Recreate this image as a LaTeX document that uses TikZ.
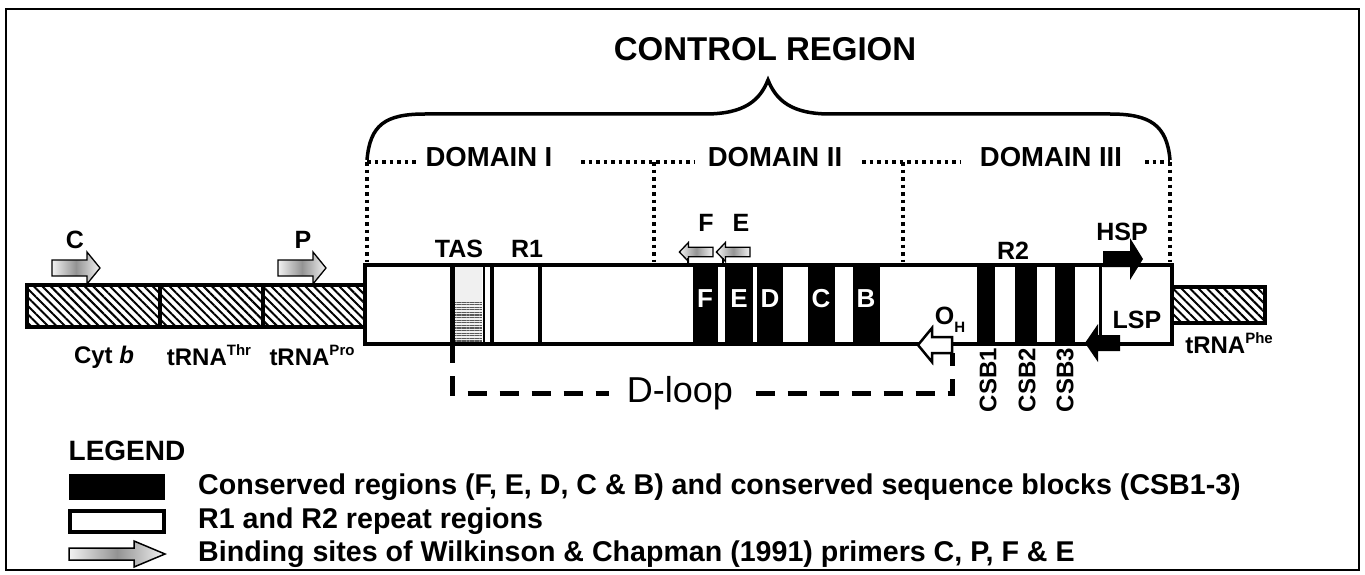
\documentclass[tikz,border=0pt]{standalone}
\usepackage{fontspec}
\setmainfont{Liberation Sans}
\usetikzlibrary{patterns.meta}
\newcommand\supx[1]{\raisebox{0.42em}{\fontsize{15}{15}\selectfont #1}}
\newcommand\subx[1]{\raisebox{-0.3em}{\fontsize{15}{15}\selectfont #1}}
\begin{document}
\begin{tikzpicture}[x=1pt,y=-1pt,
  txt/.style={inner sep=0pt, font=\fontsize{24}{24}\selectfont\bfseries},
  big/.style={inner sep=0pt, font=\fontsize{25}{25}\selectfont\bfseries},
  dom/.style={inner sep=0pt, font=\fontsize{27.5}{28}\selectfont\bfseries},
  leg/.style={inner sep=0pt, anchor=west, font=\fontsize{28.6}{29}\selectfont\bfseries},
  dotline/.style={line width=4pt, dash pattern=on 3.5pt off 4pt},
  hatch/.style={draw, line width=4pt, pattern={Lines[angle=-45,distance=6pt,line width=2pt]}},
  blk/.style={fill=black},
  wl/.style={inner sep=0pt, text=white, font=\fontsize{26}{26}\selectfont\bfseries},
  primer/.style={draw, line width=1.3pt, left color=gray!10, right color=gray!10, middle color=gray!85},
  dloop/.style={line width=5pt, dash pattern=on 19pt off 13pt},
  solidarrow/.style={fill=black},
  openarrow/.style={draw, fill=white, line width=2.5pt},
  primerR/.pic={\path[primer] (0,-8) -- (35,-8) -- (35,-16) -- (48,0) -- (35,16) -- (35,8) -- (0,8) -- cycle;}
]
\useasboundingbox (0,0) rectangle (1365,575);
\draw[line width=2pt] (6,9) rectangle (1359,570);

% title and brace
\node[inner sep=0pt, font=\fontsize{33}{33}\selectfont\bfseries] (title) at (765,49) {CONTROL REGION};
\draw[line width=3.5pt] (367,160) .. controls (370,125) and (385,114) .. (425,114) -- (705,114)
  .. controls (745,114) and (760,100) .. (768,80) .. controls (776,100) and (791,114) .. (830,114)
  -- (1110,114) .. controls (1150,114) and (1167,125) .. (1170,160);

% domain labels and dotted lines
\node[dom] (d1) at (489,157) {DOMAIN I};
\node[dom] (d2) at (775,157) {DOMAIN II};
\node[dom] (d3) at (1051,157) {DOMAIN III};
\draw[dotline] (367,162) -- (419,162);
\draw[dotline] (581,162) -- (694,162);
\draw[dotline] (862,162) -- (960,162);
\draw[dotline] (1145,162) -- (1170,162);
\draw[dotline] (367,162) -- (367,262);
\draw[dotline] (654,162) -- (654,262);
\draw[dotline] (903,162) -- (903,262);
\draw[dotline] (1170,162) -- (1170,262);

% flanking genes
\path[hatch] (27,285) rectangle (365,327);
\draw[line width=4pt] (160,285) -- (160,327);
\draw[line width=4pt] (263,285) -- (263,327);
\path[hatch] (1172,287) rectangle (1265,323);

% control region box
\draw[line width=4.5pt, fill=white] (365,265) rectangle (1172,344);
\fill[gray!12] (455,267) rectangle (482,342);
\fill[pattern={Lines[angle=0,distance=2.6pt,line width=1.1pt]}, pattern color=gray!70!black] (455,302) rectangle (482,342);
\draw[line width=5pt] (452.5,265) -- (452.5,344);
\draw[line width=2pt] (484,265) -- (484,344);
\draw[line width=4pt] (492,265) -- (492,344);
\draw[line width=4pt] (540,265) -- (540,344);
\draw[line width=3pt] (1100,265) -- (1100,344);
% conserved blocks
\fill[blk] (693,265) rectangle (718,344);
\fill[blk] (725,265) rectangle (753,344);
\fill[blk] (757,265) rectangle (783,344);
\fill[blk] (808,265) rectangle (835,344);
\fill[blk] (853,265) rectangle (880,344);
\fill[blk] (977,265) rectangle (995,344);
\fill[blk] (1015,265) rectangle (1037,344);
\fill[blk] (1055,265) rectangle (1075,344);
\node[wl] (lF) at (705,299) {F};
\node[wl] (lE) at (739,299) {E};
\node[wl] (lD) at (770,299) {D};
\node[wl] (lC) at (821,299) {C};
\node[wl] (lB) at (866,299) {B};

% labels in/around box
\node[big] (tas) at (459,249) {TAS};
\node[big] (r1) at (527,249) {R1};
\node[big] (r2) at (1013,251) {R2};
\node[big] (hsp) at (1122,232) {HSP};
\node[big] (lsp) at (1137,320) {LSP};
\node[big] (oh) at (950,320) {O\subx{H}};
\node[txt] (cytb) at (104,357) {Cyt \textit{b}};
\node[txt] (thr) at (209,355) {tRNA\supx{Thr}};
\node[txt] (pro) at (312,355) {tRNA\supx{Pro}};
\node[txt] (phe) at (1229,343) {tRNA\supx{Phe}};
\node[txt, rotate=90] (csb1) at (988,380) {CSB1};
\node[txt, rotate=90] (csb2) at (1027,380) {CSB2};
\node[txt, rotate=90] (csb3) at (1065,380) {CSB3};

% promoters and origin
\path[solidarrow] (1103,251) -- (1130,251) -- (1130,238) -- (1143,259) -- (1130,280) -- (1130,267) -- (1103,267) -- cycle;
\path[solidarrow] (1120,335) -- (1098,335) -- (1098,324) -- (1085,343) -- (1098,362) -- (1098,351) -- (1120,351) -- cycle;
\path[openarrow] (952,337) -- (932,337) -- (932,328) -- (918,345) -- (932,362) -- (932,353) -- (952,353) -- cycle;

% D-loop
\coordinate (dlA) at (452.5,344);
\coordinate (dlB) at (952,353);
\draw[dloop] (dlA) -- (dlA |- 0,393) -- (dlB |- 0,393) -- (dlB);
\node[inner sep=0pt, inner xsep=18pt, fill=white, font=\fontsize{36}{36}\selectfont] (dl) at (680,393) {D-loop};

% primers
\pic at (52,268) {primerR};
\pic at (278,268) {primerR};
\pic[xscale=-0.7, yscale=0.6] at (713,252) {primerR};
\pic[xscale=-0.7, yscale=0.6] at (750,252) {primerR};
\draw[line width=1.5pt] (688,258) -- (688,265);
\draw[line width=1.5pt] (723,258) -- (723,265);
\node[big] (pC) at (75,240) {C};
\node[big] (pP) at (303,240) {P};
\node[big] (pF) at (706,223) {F};
\node[big] (pE) at (741,223) {E};

% legend
\node[inner sep=0pt, font=\fontsize{28}{28}\selectfont\bfseries] (legend) at (127,451) {LEGEND};
\fill[black] (69,474) rectangle (165,500);
\draw[line width=3.5pt] (70,511) rectangle (164,532);
\path[primer, line width=1.5pt] (69,548) -- (134,548) -- (134,541) -- (165,554) -- (134,567) -- (134,560) -- (69,560) -- cycle;
\node[leg] (t1) at (198,487) {Conserved regions (F, E, D, C \& B) and conserved sequence blocks (CSB1-3)};
\node[leg] (t2) at (198,521) {R1 and R2 repeat regions};
\node[leg] (t3) at (198,554) {Binding sites of Wilkinson \& Chapman (1991) primers C, P, F \& E};
\end{tikzpicture}
\end{document}
